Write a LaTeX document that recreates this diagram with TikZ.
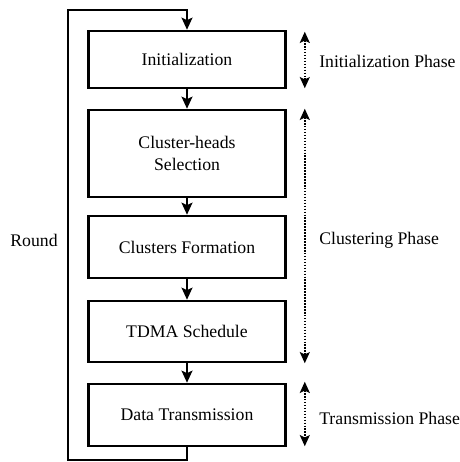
\documentclass[tikz,border=0pt]{standalone}
\usepackage{fontspec}
\setmainfont{Liberation Serif}
\usetikzlibrary{arrows.meta, calc}

\tikzset{
  stage/.style={draw, line width=1.8pt, minimum width=4.925cm, align=center},
  flow/.style={line width=1.8pt, -{Stealth[length=0.3cm, width=0.27cm, inset=0.06cm]}},
  phase/.style={line width=1.1pt, densely dotted,
    {Stealth[length=0.28cm, width=0.25cm, inset=0.06cm]}-{Stealth[length=0.28cm, width=0.25cm, inset=0.06cm]}},
  phaselbl/.style={anchor=west, inner sep=0pt},
}

\begin{document}
\begin{tikzpicture}[x=0.025cm, y=-0.025cm, font=\rmfamily\fontsize{12.6}{15.4}\selectfont]
    \useasboundingbox (0,0) rectangle (460,462);

    % protocol stages, top to bottom
    \foreach \name/\yc/\h/\lbl in {
        init/59.5/57/{Initialization},
        chsel/153.5/87/{Cluster-heads\\Selection},
        form/247/62/{Clusters Formation},
        tdma/331.5/61/{TDMA Schedule},
        data/415/62/{Data Transmission}}
    {
        \node[stage, minimum height={\h*0.025cm}] (\name) at (187,\yc) {\lbl};
    }
    \foreach \a/\b in {init/chsel, chsel/form, form/tdma, tdma/data}
        \draw[flow] (\a) -- (\b);

    % loop back for the next round
    \coordinate (loopbl) at (68,460);
    \coordinate (looptl) at (68,10);
    \draw[flow] (data.south) |- (loopbl) -- (looptl) -| (init.north);
    \node (round) at (34,240) {Round};

    % phase spans
    \draw[phase] ($(init.north east)+(18,2)$) -- ($(init.south east)+(18,-1)$);
    \draw[phase] ($(chsel.north east)+(18,0)$) -- ($(tdma.south east)+(18,0)$);
    \draw[phase] ($(data.north east)+(18,-1)$) -- ($(data.south east)+(18,-1)$);
    \node[phaselbl] (initph) at (319,61) {Initialization Phase};
    \node[phaselbl] (clusph) at (319,240) {Clustering Phase};
    \node[phaselbl] (transph) at (319,418) {Transmission Phase};
\end{tikzpicture}
\end{document}
